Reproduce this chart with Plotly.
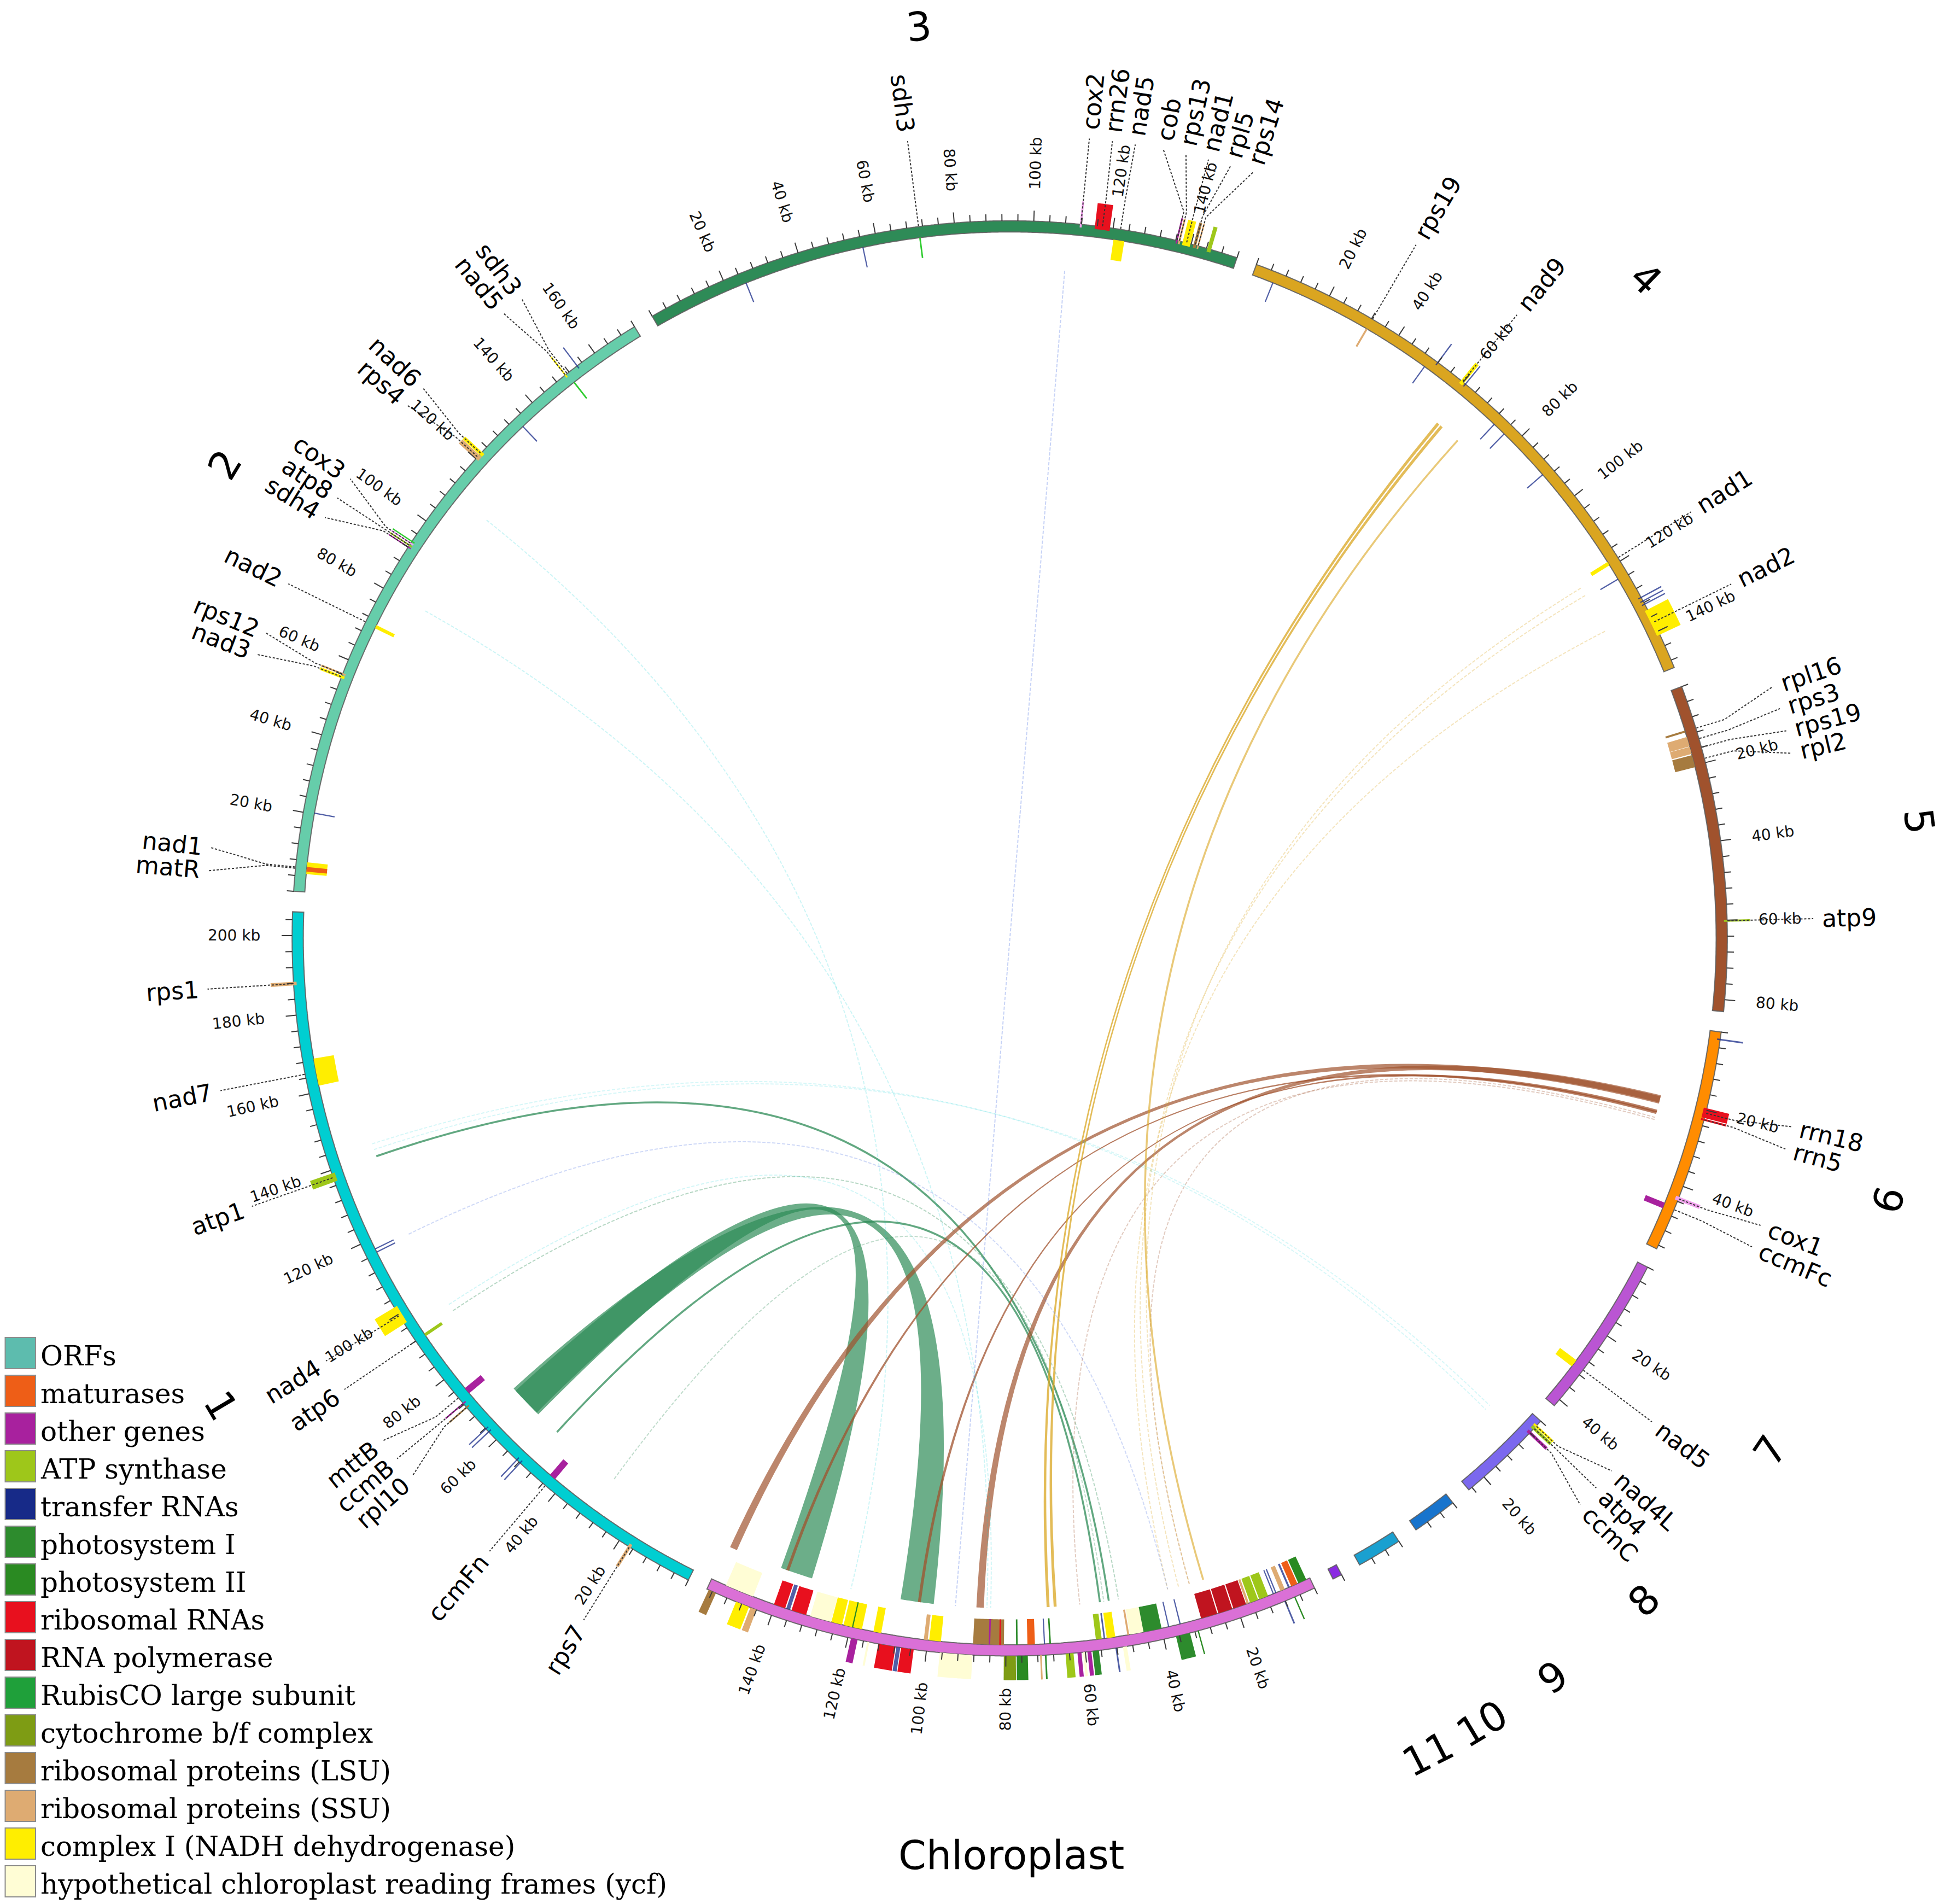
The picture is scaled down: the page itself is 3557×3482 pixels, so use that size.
import math
import plotly.graph_objects as go

# ============================ DATA ============================
seg_names = ["1", "2", "3", "4", "5", "6", "7", "8", "9", "10", "11", "Chloroplast"]
seg_lengths_kb = [206, 172, 152, 150, 83, 57, 42, 25, 11.5, 11.5, 2.4, 157.5]
seg_colors = ["#00CED1", "#66CDAA", "#2E8B57", "#DAA520", "#A0522D", "#FF8C00",
              "#BA55D3", "#7B68EE", "#1874CD", "#1AA0D0", "#8A2BE2", "#DA70D6"]

legend_names = ["ORFs", "maturases", "other genes", "ATP synthase", "transfer RNAs",
                "photosystem I", "photosystem II", "ribosomal RNAs", "RNA polymerase",
                "RubisCO large subunit", "cytochrome b/f complex", "ribosomal proteins (LSU)",
                "ribosomal proteins (SSU)", "complex I (NADH dehydrogenase)",
                "hypothetical chloroplast reading frames (ycf)"]
legend_keys = ["orf", "mat", "oth", "atp", "trna", "ps1", "ps2", "rrna", "rpo", "rbc",
               "pet", "lsu", "ssu", "ndh", "ycf"]
cat_keys = legend_keys + ["cox", "sdh"]
cat_colors = ["#5DBCAE", "#EE5E17", "#A8219E", "#9EC71A", "#172A88", "#2D8B2D", "#2A8A22",
              "#E8101E", "#C0141F", "#1FA03A", "#7E9C14", "#A67B3F", "#DEAB72", "#FFEE00",
              "#FFFDD5", "#F2A2EE", "#2FCC2F"]

# mitochondrial genes (segment, start kb, end kb, category, track, label)
mt_seg = ["1", "1", "1", "1", "1", "1", "1", "1", "1", "1", "1", "1", "1", "1", "1", "1",
          "2", "2", "2", "2", "2", "2", "2", "2", "2", "2", "2", "2", "2", "2", "2", "2",
          "3", "3", "3", "3", "3", "3", "3", "3", "3", "3", "3", "3",
          "4", "4", "4", "4", "4", "4", "4", "4", "4", "4", "4", "4", "4", "4", "4",
          "5", "5", "5", "5", "5",
          "6", "6", "6", "6", "6",
          "7",
          "8", "8", "8"]
mt_start = [16.6, 42.3, 51.5, 52.6, 62.6, 63.6, 70.8, 72.1, 73.3, 91.6, 97.2, 116.3, 117.2, 137.0, 161.5, 187.5,
            4.6, 5.2, 20.1, 55.0, 55.9, 70.0, 91.9, 92.4, 93.0, 93.6, 120.0, 121.4, 134.0, 150.6, 151.2, 154.4,
            24.9, 56.1, 70.8, 111.6, 115.4, 120.5, 136.1, 136.7, 137.8, 140.6, 141.6, 144.2,
            5.4, 32.0, 49.7, 51.8, 59.3, 60.6, 72.8, 76.3, 90.6, 118.5, 123.5, 130.4, 131.4, 132.3, 134.0,
            10.8, 12.5, 15.1, 17.3, 59.9,
            1.7, 19.5, 22.2, 42.8, 45.5,
            29.5,
            1.4, 2.1, 3.6]
mt_end = [17.4, 44.0, 51.8, 52.9, 62.9, 63.9, 71.2, 72.5, 75.0, 92.4, 102.0, 116.6, 117.5, 139.2, 168.5, 188.4,
          7.6, 6.4, 20.4, 55.7, 56.4, 70.9, 92.2, 92.8, 93.4, 93.9, 121.3, 122.3, 134.3, 151.0, 151.6, 154.7,
          25.2, 56.4, 71.2, 112.1, 119.2, 123.3, 136.5, 137.2, 139.8, 141.3, 142.0, 145.2,
          5.7, 32.5, 50.0, 52.1, 60.3, 60.9, 73.1, 76.6, 90.9, 119.5, 123.8, 130.7, 131.7, 132.6, 141.0,
          11.3, 15.0, 17.0, 20.5, 60.4,
          2.1, 22.0, 22.7, 43.8, 47.0,
          31.5,
          2.0, 2.9, 4.4]
mt_cat = ["ssu", "oth", "trna", "trna", "trna", "trna", "lsu", "oth", "oth", "atp", "ndh", "trna", "trna", "atp", "ndh", "ssu",
          "ndh", "mat", "trna", "ndh", "ssu", "ndh", "oth", "atp", "cox", "sdh", "ssu", "ndh", "trna", "ndh", "sdh", "trna",
          "trna", "trna", "sdh", "cox", "rrna", "ndh", "oth", "ssu", "ndh", "lsu", "ssu", "atp",
          "trna", "ssu", "trna", "trna", "ndh", "trna", "trna", "trna", "trna", "ndh", "trna", "trna", "trna", "trna", "ndh",
          "lsu", "ssu", "ssu", "lsu", "atp",
          "trna", "rrna", "rrna", "cox", "oth",
          "ndh",
          "ndh", "atp", "oth"]
mt_track = ["out", "in", "out", "out", "out", "out", "out", "out", "in", "in", "out", "in", "in", "out", "in", "out",
            "in", "in", "in", "out", "out", "in", "out", "out", "out", "out", "out", "out", "in", "out", "in", "out",
            "in", "in", "in", "out", "out", "in", "out", "out", "out", "out", "out", "out",
            "in", "in", "in", "out", "out", "out", "in", "in", "in", "in", "in", "out", "out", "out", "out",
            "in", "in", "in", "in", "out",
            "out", "out", "out", "out", "in",
            "in",
            "out", "out", "out"]
mt_label = ["rps7", "ccmFn", "", "", "", "", "rpl10", "ccmB", "mttB", "atp6", "nad4", "", "", "atp1", "nad7", "rps1",
            "nad1", "matR", "", "nad3", "rps12", "nad2", "sdh4", "atp8", "cox3", "", "rps4", "nad6", "", "nad5", "sdh3", "",
            "", "", "sdh3", "cox2", "rrn26", "nad5", "cob", "rps13", "nad1", "rpl5", "rps14", "",
            "", "rps19", "", "", "nad9", "", "", "", "", "nad1", "", "", "", "", "nad2",
            "rpl16", "rps3", "rps19", "rpl2", "atp9",
            "", "rrn18", "rrn5", "cox1", "ccmFc",
            "nad5",
            "nad4L", "atp4", "ccmC"]

# chloroplast genes (start kb, end kb, category, track)
cp_start = [146.0, 131.7, 136.0, 137.3, 125.1, 117.0, 122.2, 119.3, 112.0, 100.0, 96.6, 80.5, 84.0, 81.3,
            77.0, 72.6, 70.0, 68.5, 55.5, 54.6, 52.0, 48.4, 44.7, 40.0, 38.0, 35.0, 17.6, 21.3, 25.3,
            16.8, 14.3, 11.6, 10.0, 9.3, 7.0, 5.6, 3.5, 1.0,
            155.0, 146.0, 144.0, 117.5, 114.5, 103.2, 106.6, 107.8, 88.4, 77.5, 74.5, 71.0, 69.8,
            63.0, 61.0, 60.0, 58.5, 56.6, 52.0, 49.5, 33.3, 31.0, 7.9, 5.3]
cp_end = [153.5, 135.6, 137.0, 140.3, 130.6, 121.8, 125.0, 119.6, 114.0, 101.0, 99.6, 88.4, 84.4, 81.7,
          77.4, 74.5, 70.3, 68.9, 57.0, 55.0, 54.2, 48.9, 48.2, 44.7, 38.3, 35.3, 21.0, 25.0, 29.6,
          17.4, 16.5, 14.0, 10.3, 9.6, 8.2, 6.1, 5.2, 3.2,
          157.0, 149.5, 145.6, 119.2, 115.0, 106.4, 107.6, 112.2, 96.6, 80.5, 77.3, 71.4, 70.2,
          65.0, 62.0, 60.6, 59.5, 58.2, 52.4, 50.5, 36.9, 31.3, 8.3, 5.6]
cp_cat = ["ycf", "rrna", "trna", "rrna", "ycf", "ndh", "ndh", "ps2", "ndh", "ssu", "ndh", "lsu", "oth", "rrna",
          "ps1", "mat", "trna", "ps2", "atp", "trna", "ndh", "ssu", "ycf", "ps1", "trna", "trna", "rpo", "rpo", "rpo",
          "ssu", "atp", "atp", "trna", "trna", "ssu", "trna", "mat", "ps2",
          "lsu", "ndh", "ssu", "oth", "ycf", "rrna", "trna", "rrna", "ycf", "pet", "ps2", "ssu", "ps1",
          "atp", "oth", "ycf", "oth", "ps1", "trna", "ycf", "ps1", "ps2", "trna", "ps2"]
cp_track = ["in"] * 38 + ["out"] * 24

# links (segment A, start, end, segment B, start, end, colour, opacity)
link_seg_a = ["1", "1", "1", "1", "1", "1", "6", "6", "6", "6", "6", "6", "4", "4", "4", "4", "4", "4",
              "2", "2", "1", "1", "1", "3", "1"]
link_a_start = [57.6, 57.0, 49.8, 139.4, 93.0, 30.0, 19.0, 19.3, 23.0, 23.4, 25.0, 25.6, 61.4, 62.6, 68.5,
                120.5, 122.8, 133.8, 80.0, 109.5, 95.0, 141.4, 143.0, 108.6, 116.8]
link_a_end = [66.6, 65.8, 50.3, 139.9, 93.3, 30.3, 21.0, 21.3, 23.8, 24.2, 25.3, 25.9, 62.2, 63.4, 69.0,
              120.8, 123.1, 134.1, 80.3, 109.8, 95.3, 141.7, 143.3, 108.9, 117.1]
link_seg_b = ["Chloroplast"] * 21 + ["8", "8"] + ["Chloroplast"] * 2
link_b_start = [99.5, 133.0, 54.4, 52.0, 49.5, 53.5, 86.0, 154.6, 103.0, 139.5, 30.0, 60.0, 68.3, 66.4, 26.0,
                30.0, 33.0, 36.0, 85.0, 122.0, 84.0, 6.0, 7.5, 93.5, 36.0]
link_b_end = [108.5, 141.8, 55.0, 52.6, 49.8, 53.8, 88.0, 156.6, 103.8, 140.3, 30.3, 60.3, 69.1, 67.2, 26.5,
              30.3, 33.3, 36.3, 85.3, 122.3, 84.3, 6.3, 7.8, 93.8, 36.3]
link_rgb = (["46,139,87"] * 6 + ["160,82,45"] * 6 + ["218,165,32"] * 6 + ["0,206,209"] * 5
            + ["65,105,225"] * 2)
link_alpha = [0.70, 0.70, 0.75, 0.75, 0.35, 0.30, 0.70, 0.70, 0.75, 0.75, 0.30, 0.30, 0.75, 0.75, 0.60,
              0.30, 0.30, 0.30, 0.20, 0.20, 0.18, 0.16, 0.16, 0.30, 0.25]

# ============================ LAYOUT ============================
W, H = 3557, 3482
K = W / 1568.0
CX, CY = 814.0 * K, 756.5 * K
R_RING = (569.5 * K, 578.5 * K)
R_MT_IN = (553.0 * K, 569.5 * K)
R_MT_OUT = (576.0 * K, 597.0 * K)
R_CP_IN = (549.0 * K, 569.5 * K)
R_CP_OUT = (578.5 * K, 598.0 * K)
R_LINK = 540.0 * K
TICK_MINOR, TICK_MAJOR = 5.5 * K, 8.5 * K
R_TICKLABEL = 604.0 * K
R_GENELABEL = 655.0 * K
R_SEGLABEL = 739.0 * K
GAP_DEG = 1.64
START_DEG = 206.6
FS_GENE, FS_TICK, FS_SEG, FS_LEG = 44, 28, 73, 50
SANS, SERIF = "DejaVu Sans", "DejaVu Serif"

DEG_PER_KB = (360.0 - GAP_DEG * len(seg_names)) / sum(seg_lengths_kb)
seg_start = []
acc = START_DEG
for L in seg_lengths_kb:
    seg_start.append(acc)
    acc += L * DEG_PER_KB + GAP_DEG
seg_idx = {n: i for i, n in enumerate(seg_names)}
cat_color = dict(zip(cat_keys, cat_colors))

DJ = {'a': .613, 'b': .635, 'c': .550, 'd': .635, 'e': .615, 'f': .352, 'g': .635, 'h': .634, 'i': .278,
      'j': .278, 'k': .579, 'l': .278, 'm': .974, 'n': .634, 'o': .612, 'p': .635, 'q': .635, 'r': .411,
      's': .521, 't': .392, 'u': .634, 'v': .592, 'w': .818, 'x': .592, 'y': .592, 'z': .525, ' ': .318,
      'B': .686, 'C': .698, 'F': .575, 'L': .557, 'R': .695, 'M': .863, 'N': .748}


def text_w(s, size):
    return sum(DJ.get(c, .636) for c in s) * size


def theta(seg, kb):
    i = seg_idx[seg]
    return seg_start[i] + kb * DEG_PER_KB


def pt(t, r):
    a = math.radians(t)
    return (CX + r * math.sin(a), CY - r * math.cos(a))


def arc(t1, t2, r, step=0.15):
    n = max(2, int(abs(t2 - t1) / step) + 2)
    return [pt(t1 + (t2 - t1) * k / (n - 1), r) for k in range(n)]


def f(p):
    return f"{p[0]:.1f},{p[1]:.1f}"


def sector(t1, t2, r1, r2):
    pts = arc(t1, t2, r2) + arc(t2, t1, r1)
    return "M" + " L".join(f(p) for p in pts) + " Z"


def text_angle_radial(t):
    tm = t % 360
    return tm - 90 if tm < 180 else tm - 270


def text_angle_tangent(t):
    tm = t % 360
    a = tm - 180 if 90 <= tm < 270 else tm
    if a > 180:
        a -= 360
    return a


shapes = []
annotations = []

# ---- links ----
for i in range(len(link_seg_a)):
    ta = sorted((theta(link_seg_a[i], link_a_start[i]), theta(link_seg_a[i], link_a_end[i])))
    tb = sorted((theta(link_seg_b[i], link_b_start[i]), theta(link_seg_b[i], link_b_end[i])))
    while tb[0] < ta[0]:
        tb = [tb[0] + 360, tb[1] + 360]
    col = f"rgba({link_rgb[i]},{link_alpha[i]})"
    width_kb = abs(link_a_end[i] - link_a_start[i])
    if width_kb < 0.6:
        pa = pt((ta[0] + ta[1]) / 2, R_LINK)
        pb = pt((tb[0] + tb[1]) / 2, R_LINK)
        path = f"M{f(pa)} Q{CX:.1f},{CY:.1f} {f(pb)}"
        faint = link_alpha[i] < 0.5
        lw = 2.0 if faint else max(2.5, 7 * width_kb)
        shapes.append(dict(type="path", path=path,
                           line=dict(color=col, width=lw, dash="6px,3px" if faint else "solid"),
                           xref="x", yref="y", layer="above"))
    else:
        pa = arc(ta[0], ta[1], R_LINK)
        pb = arc(tb[0], tb[1], R_LINK)
        path = "M" + " L".join(f(p) for p in pa)
        path += f" Q{CX:.1f},{CY:.1f} {f(pb[0])}"
        path += " L" + " L".join(f(p) for p in pb[1:])
        path += f" Q{CX:.1f},{CY:.1f} {f(pa[0])} Z"
        shapes.append(dict(type="path", path=path, fillcolor=col, line=dict(width=0),
                           xref="x", yref="y", layer="above"))

# ---- ring segments ----
for i, name in enumerate(seg_names):
    t1 = seg_start[i]
    t2 = t1 + seg_lengths_kb[i] * DEG_PER_KB
    shapes.append(dict(type="path", path=sector(t1, t2, R_RING[0], R_RING[1]), fillcolor=seg_colors[i],
                       line=dict(color="rgba(95,95,95,0.9)", width=2), xref="x", yref="y", layer="above"))


def gene_block(seg, s, e, cat, rr):
    t1, t2 = sorted((theta(seg, s), theta(seg, e)))
    if t2 - t1 < 0.1:
        m = (t1 + t2) / 2
        t1, t2 = m - 0.05, m + 0.05
    op = 0.75 if cat == "trna" else 1.0
    shapes.append(dict(type="path", path=sector(t1, t2, rr[0], rr[1]), fillcolor=cat_color[cat], opacity=op,
                       line=dict(width=0), xref="x", yref="y", layer="above"))


# ---- chloroplast genes ----
for s, e, c, tr in zip(cp_start, cp_end, cp_cat, cp_track):
    gene_block("Chloroplast", s, e, c, R_CP_IN if tr == "in" else R_CP_OUT)

# ---- mitochondrial genes ----
for sg, s, e, c, tr in zip(mt_seg, mt_start, mt_end, mt_cat, mt_track):
    gene_block(sg, s, e, c, R_MT_IN if tr == "in" else R_MT_OUT)

# ---- ticks and tick labels ----
tick_path = []
for i, name in enumerate(seg_names):
    L = seg_lengths_kb[i]
    kb = 0
    while kb <= L + 1e-6:
        t = theta(name, kb)
        major = (kb % 20 == 0) and kb > 0
        p1 = pt(t, R_RING[1])
        p2 = pt(t, R_RING[1] + (TICK_MAJOR if major else TICK_MINOR))
        tick_path.append(f"M{f(p1)} L{f(p2)}")
        if major:
            lab = f"{kb} kb"
            rc = R_TICKLABEL + text_w(lab, FS_TICK) / 2
            x, y = pt(t, rc)
            annotations.append(dict(x=x, y=y, xref="x", yref="y", text=lab, showarrow=False,
                                    textangle=text_angle_radial(t), xanchor="center", yanchor="middle",
                                    font=dict(family=SANS, size=FS_TICK, color="#111")))
        kb += 4
shapes.append(dict(type="path", path=" ".join(tick_path), line=dict(color="#3a3a3a", width=2),
                   xref="x", yref="y", layer="above"))

# ---- gene labels (spread to avoid overlap) ----
lab_items = []
for sg, s, e, lab in zip(mt_seg, mt_start, mt_end, mt_label):
    if lab:
        lab_items.append([theta(sg, (s + e) / 2), lab])
lab_items.sort(key=lambda v: v[0])
lab_t = [v[0] for v in lab_items]
SEP = 1.65
for _ in range(2000):
    moved = False
    for i in range(len(lab_t) - 1):
        d = lab_t[i + 1] - lab_t[i]
        if d < SEP - 1e-6:
            push = (SEP - d) / 2
            lab_t[i] -= push
            lab_t[i + 1] += push
            moved = True
    if not moved:
        break

conn = []
for (tg, lab), tl in zip(lab_items, lab_t):
    p0 = pt(tg, R_RING[1] + 1)
    p1 = pt(tg, R_RING[1] + 24 * K)
    p2 = pt(tl, R_GENELABEL - 7 * K)
    conn.append(f"M{f(p0)} L{f(p1)} L{f(p2)}")
    rc = R_GENELABEL + text_w(lab, FS_GENE) / 2
    x, y = pt(tl, rc)
    annotations.append(dict(x=x, y=y, xref="x", yref="y", text=lab, showarrow=False,
                            textangle=text_angle_radial(tl), xanchor="center", yanchor="middle",
                            font=dict(family=SANS, size=FS_GENE, color="black")))
shapes.append(dict(type="path", path=" ".join(conn), line=dict(color="#333333", width=2, dash="4px,3px"),
                   xref="x", yref="y", layer="above"))

# ---- segment labels ----
for i, name in enumerate(seg_names):
    tc = seg_start[i] + seg_lengths_kb[i] * DEG_PER_KB / 2
    x, y = pt(tc, R_SEGLABEL)
    annotations.append(dict(x=x, y=y, xref="x", yref="y", text=name, showarrow=False,
                            textangle=text_angle_tangent(tc), xanchor="center", yanchor="middle",
                            font=dict(family=SANS, size=FS_SEG, color="black")))

# ---- legend (manual) ----
LEG_X0, LEG_X1 = 9.5, 65.0
LEG_Y0, LEG_PITCH, LEG_H = 2446.0, 69.0, 57.0
for i, (nm, key) in enumerate(zip(legend_names, legend_keys)):
    y0 = LEG_Y0 + i * LEG_PITCH
    shapes.append(dict(type="rect", x0=LEG_X0, x1=LEG_X1, y0=y0, y1=y0 + LEG_H, xref="x", yref="y",
                       fillcolor=cat_color[key], line=dict(color="#8c8c8c", width=2), layer="above"))
    annotations.append(dict(x=72, y=y0 + LEG_H / 2 + 5, xref="x", yref="y", text=nm, showarrow=False,
                            xanchor="left", yanchor="middle",
                            font=dict(family=SERIF, size=FS_LEG, color="black")))

fig = go.Figure()
fig.add_trace(go.Scatter(x=[0, W], y=[0, H], mode="markers", marker=dict(opacity=0), hoverinfo="skip",
                         showlegend=False))
fig.update_layout(width=W, height=H, margin=dict(l=0, r=0, t=0, b=0, pad=0),
                  paper_bgcolor="white", plot_bgcolor="white", showlegend=False,
                  shapes=shapes, annotations=annotations,
                  xaxis=dict(range=[0, W], visible=False, fixedrange=True),
                  yaxis=dict(range=[H, 0], visible=False, fixedrange=True))
fig.write_html("out.html", config={"displayModeBar": False, "staticPlot": True},
               post_script="document.body.style.margin='0';document.body.style.overflow='hidden';")
